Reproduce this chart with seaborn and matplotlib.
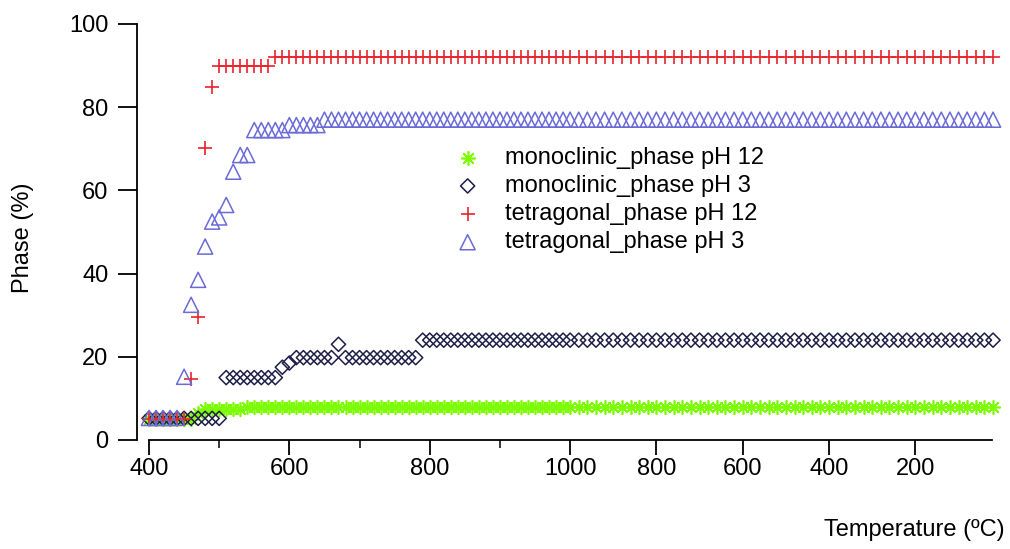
import matplotlib
matplotlib.use("Agg")
import matplotlib.pyplot as plt
import seaborn as sns
import pandas as pd
from matplotlib.ticker import FixedLocator, NullFormatter

# ---------------- data ----------------
heat_temp = [400, 410, 420, 430, 440, 450, 460, 470, 480, 490,
             500, 510, 520, 530, 540, 550, 560, 570, 580, 590,
             600, 610, 620, 630, 640, 650, 660, 670, 680, 690,
             700, 710, 720, 730, 740, 750, 760, 770, 780, 790,
             800, 810, 820, 830, 840, 850, 860, 870, 880, 890,
             900, 910, 920, 930, 940, 950, 960, 970, 980, 990, 1000]
cool_temp = [980, 960, 940, 920, 900, 880, 860, 840, 820, 800,
             780, 760, 740, 720, 700, 680, 660, 640, 620, 600,
             580, 560, 540, 520, 500, 480, 460, 440, 420, 400,
             380, 360, 340, 320, 300, 280, 260, 240, 220, 200,
             180, 160, 140, 120, 100, 80, 60, 40, 20]

mono_ph12_heat = [5, 5, 5, 5, 5, 5, 5, 6.5, 7.5, 7.5,
                  7.5, 7.5, 7.5, 7.5, 8, 8, 8, 8, 8, 8,
                  8, 8, 8, 8, 8, 8, 8, 8, 8, 8,
                  8, 8, 8, 8, 8, 8, 8, 8, 8, 8,
                  8, 8, 8, 8, 8, 8, 8, 8, 8, 8,
                  8, 8, 8, 8, 8, 8, 8, 8, 8, 8, 8]
mono_ph3_heat = [5.2, 5.2, 5.2, 5.2, 5.2, 5.2, 5.2, 5.2, 5.2, 5.2,
                 5.2, 15, 15, 15, 15, 15, 15, 15, 15, 17.5,
                 18.5, 19.8, 19.8, 19.8, 19.8, 19.8, 19.8, 23, 19.8, 19.8,
                 19.8, 19.8, 19.8, 19.8, 19.8, 19.8, 19.8, 19.8, 19.8, 24,
                 24, 24, 24, 24, 24, 24, 24, 24, 24, 24,
                 24, 24, 24, 24, 24, 24, 24, 24, 24, 24, 24]
tetra_ph12_heat = [5, 5, 5, 5, 5, 5, 14.7, 29.6, 70.2, 84.8,
                   90, 90, 90, 90, 90, 90, 90, 90, 92, 92,
                   92, 92, 92, 92, 92, 92, 92, 92, 92, 92,
                   92, 92, 92, 92, 92, 92, 92, 92, 92, 92,
                   92, 92, 92, 92, 92, 92, 92, 92, 92, 92,
                   92, 92, 92, 92, 92, 92, 92, 92, 92, 92, 92]
tetra_ph3_heat = [5.3, 5.3, 5.3, 5.3, 5.3, 15.2, 32.5, 38.5, 46.5, 52.5,
                  53.5, 56.5, 64.5, 68.5, 68.5, 74.5, 74.5, 74.5, 74.5, 74.5,
                  75.7, 75.7, 75.7, 75.7, 75.7, 77, 77, 77, 77, 77,
                  77, 77, 77, 77, 77, 77, 77, 77, 77, 77,
                  77, 77, 77, 77, 77, 77, 77, 77, 77, 77,
                  77, 77, 77, 77, 77, 77, 77, 77, 77, 77, 77]

mono_ph12_cool = [8, 8, 8, 8, 8, 8, 8, 8, 8, 8, 8, 8, 8, 8, 8, 8, 8, 8, 8, 8,
                  8, 8, 8, 8, 8, 8, 8, 8, 8, 8, 8, 8, 8, 8, 8, 8, 8, 8, 8, 8,
                  8, 8, 8, 8, 8, 8, 8, 8, 8]
mono_ph3_cool = [24, 24, 24, 24, 24, 24, 24, 24, 24, 24, 24, 24, 24, 24, 24, 24, 24,
                 24, 24, 24, 24, 24, 24, 24, 24, 24, 24, 24, 24, 24, 24, 24, 24, 24,
                 24, 24, 24, 24, 24, 24, 24, 24, 24, 24, 24, 24, 24, 24, 24]
tetra_ph12_cool = [92, 92, 92, 92, 92, 92, 92, 92, 92, 92, 92, 92, 92, 92, 92, 92, 92,
                   92, 92, 92, 92, 92, 92, 92, 92, 92, 92, 92, 92, 92, 92, 92, 92, 92,
                   92, 92, 92, 92, 92, 92, 92, 92, 92, 92, 92, 92, 92, 92, 92]
tetra_ph3_cool = [77, 77, 77, 77, 77, 77, 77, 77, 77, 77, 77, 77, 77, 77, 77, 77, 77,
                  77, 77, 77, 77, 77, 77, 77, 77, 77, 77, 77, 77, 77, 77, 77, 77, 77,
                  77, 77, 77, 77, 77, 77, 77, 77, 77, 77, 77, 77, 77, 77, 77]

series_labels = ["monoclinic_phase pH 12", "monoclinic_phase pH 3",
                 "tetragonal_phase pH 12", "tetragonal_phase pH 3"]

heat_tick_temps = [400, 600, 800, 1000]
heat_minor_temps = [500, 700, 900]
cool_tick_temps = [800, 600, 400, 200]
y_ticks = [0, 20, 40, 60, 80, 100]

# ---------------- axis mapping (heating then cooling on one axis) ----------------
START_T = 400
TOP_T = 1000
COOL_SCALE = 0.615   # cooling branch is compressed relative to heating
END_T = 20


def heat_pos(t):
    return t - START_T


def cool_pos(t):
    return (TOP_T - START_T) + (TOP_T - t) * COOL_SCALE


def build_frame(heat_vals, cool_vals, label):
    xs = [heat_pos(t) for t in heat_temp] + [cool_pos(t) for t in cool_temp]
    return pd.DataFrame({"pos": xs, "phase": list(heat_vals) + list(cool_vals),
                         "series": label})


frames = [build_frame(mono_ph12_heat, mono_ph12_cool, series_labels[0]),
          build_frame(mono_ph3_heat, mono_ph3_cool, series_labels[1]),
          build_frame(tetra_ph12_heat, tetra_ph12_cool, series_labels[2]),
          build_frame(tetra_ph3_heat, tetra_ph3_cool, series_labels[3])]

# ---------------- style ----------------
sns.set_theme(style="white")
plt.rcParams['font.family'] = ['Liberation Sans', 'DejaVu Sans']

FS = 17
W, H = 1010, 549
fig = plt.figure(figsize=(W / 100, H / 100), dpi=100)
ax = fig.add_axes([149 / W, 1 - 440 / H, (992 - 149) / W, (440 - 24) / H])

colors = ["#7cfc00", "#1e1e46", "#e8232a", "#6a6ad8"]

# monoclinic pH 12 (asterisk)
sns.scatterplot(data=frames[0], x="pos", y="phase", ax=ax, marker=(8, 2, 0),
                s=95, color=colors[0], linewidth=1.2, label=series_labels[0],
                clip_on=False)
# monoclinic pH 3 (open diamond)
sns.scatterplot(data=frames[1], x="pos", y="phase", ax=ax, marker="D",
                s=52, color=colors[1], facecolor="none", edgecolor=colors[1],
                linewidth=1.1, label=series_labels[1], clip_on=False)
# tetragonal pH 12 (plus)
sns.scatterplot(data=frames[2], x="pos", y="phase", ax=ax, marker="+",
                s=115, color=colors[2], linewidth=1.2, label=series_labels[2],
                clip_on=False)
# tetragonal pH 3 (open triangle)
sns.scatterplot(data=frames[3], x="pos", y="phase", ax=ax, marker="^",
                s=118, color=colors[3], facecolor="none", edgecolor=colors[3],
                linewidth=1.1, label=series_labels[3], clip_on=False)

ax.set_xlim(0, cool_pos(END_T) - 1.5)
ax.set_ylim(0, 100)

# ticks
major_pos = [heat_pos(t) for t in heat_tick_temps] + [cool_pos(t) for t in cool_tick_temps]
major_lab = [str(t) for t in heat_tick_temps] + [str(t) for t in cool_tick_temps]
ax.xaxis.set_major_locator(FixedLocator(major_pos))
ax.set_xticklabels(major_lab)
ax.xaxis.set_minor_locator(FixedLocator([heat_pos(t) for t in heat_minor_temps]))
ax.xaxis.set_minor_formatter(NullFormatter())
ax.set_yticks(y_ticks)
ax.set_yticklabels([str(v) for v in y_ticks])

ax.tick_params(axis="x", which="major", direction="out", length=11, width=1.3,
               pad=2, labelsize=FS, colors="black", bottom=True)
ax.tick_params(axis="x", which="minor", direction="out", length=6, width=1.3,
               bottom=True)
ax.tick_params(axis="y", which="major", direction="out", length=13.5, width=1.3,
               pad=7, labelsize=FS, colors="black", left=True)

for side in ["top", "right"]:
    ax.spines[side].set_visible(False)
for side in ["left", "bottom"]:
    ax.spines[side].set_color("black")
    ax.spines[side].set_linewidth(1.3)
ax.spines["left"].set_position(("outward", 8.6))

ax.set_xlabel("Temperature (ºC)", fontsize=FS, color="black")
ax.xaxis.set_label_coords((1005 - 149) / 843, -(530 - 440) / 416)
ax.xaxis.label.set_ha("right")
ax.xaxis.label.set_va("center")
ax.set_ylabel("Phase (%)", fontsize=FS, color="black")
ax.yaxis.label.set_va("center")
ax.yaxis.set_label_coords((23 - 149) / 843, (440 - 238) / 416)

leg = ax.legend(loc="upper left", bbox_to_anchor=(457 / W, 1 - 147 / H),
                bbox_transform=fig.transFigure, frameon=False, fontsize=FS,
                handlelength=0.9, handletextpad=1.15, labelspacing=0.26,
                borderpad=0, borderaxespad=0, scatterpoints=1)
for t in leg.get_texts():
    t.set_color("black")

fig.savefig("out.png", dpi=100)
